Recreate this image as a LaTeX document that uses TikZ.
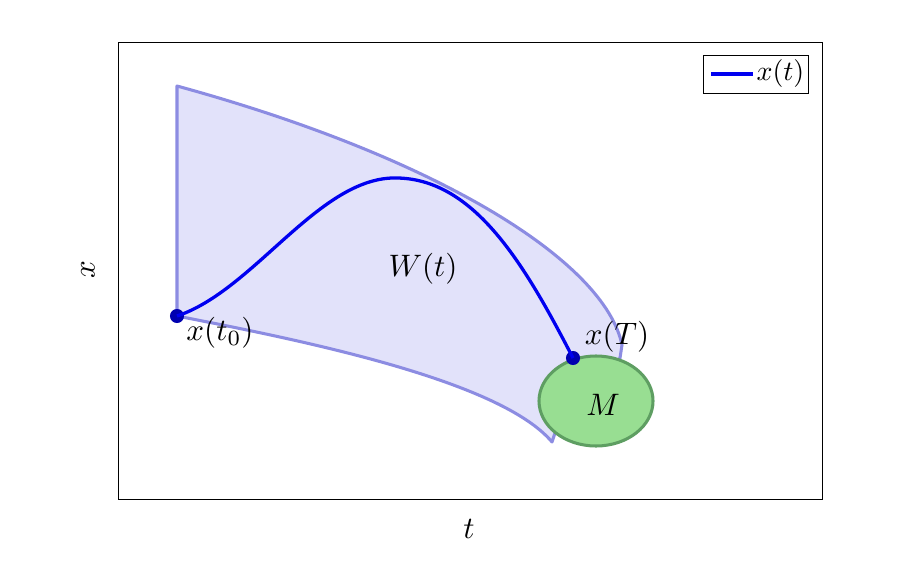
\documentclass[tikz,border=0pt]{standalone}
\usetikzlibrary{positioning,calc,shapes.geometric}
\definecolor{rfill}{HTML}{E2E2FA}
\definecolor{rline}{HTML}{8C8CE2}
\definecolor{ctraj}{HTML}{0000F0}
\definecolor{cdot}{HTML}{0000B0}
\definecolor{mfill}{HTML}{98DE92}
\definecolor{mline}{HTML}{5E9E62}

\begin{document}
\begin{tikzpicture}[x=0.03cm, y=-0.03cm,
  lbl/.style={scale=2.65},
  region/.style={fill=rfill, draw=rline, line width=2.6pt, line join=round},
  traj/.style={ctraj, line width=2.8pt},
  dot/.style={circle, fill=cdot, inner sep=0pt, minimum size=12pt}
]
\useasboundingbox (0,0) rectangle (908,562);

% --- axes frame ---
\draw[line width=0.6pt] (118,42) rectangle (822,499);

% --- reachable set W(t) ---
\path[region] (177,86) -- (177,316)
  .. controls (300,340) and (500,380) .. (552,442)
  -- (556,430) -- (620,358) -- (622,345)
  .. controls (605,262) and (440,158) .. (177,86) -- cycle;

% --- target set M ---
\node[ellipse, draw=mline, fill=mfill, line width=2.6pt, inner sep=0pt,
      minimum width=3.42cm, minimum height=2.7cm] (target) at (596,401) {};
\node[lbl] (mlab) at (603,405) {$M$};

% --- trajectory x(t) ---
\node[dot] (x0) at (177,316) {};
\node[dot] (xT) at (573,358) {};
\draw[traj] (x0.center) .. controls (255,290) and (320,175) .. (398,178)
  .. controls (475,180) and (525,265) .. (xT.center);

% --- labels ---
\node[lbl] (lx0) at (220,333) {$x(t_0)$};
\node[lbl] (lxT) at (617,337) {$x(T)$};
\node[lbl] (lW) at (423,269) {$W(t)$};
\node[lbl] (lt) at (469,529) {$t$};
\node[lbl, rotate=90] (lx) at (88,270) {$x$};

% --- legend ---
\draw[line width=0.6pt] (703,55) rectangle (808,93);
\coordinate (lega) at (711,74);
\coordinate (legb) at (753,74);
\draw[traj] (lega) -- (legb);
\node[lbl, scale=0.9, anchor=west, inner sep=0pt] (legt) at (756,74) {$x(t)$};

\end{tikzpicture}
\end{document}
